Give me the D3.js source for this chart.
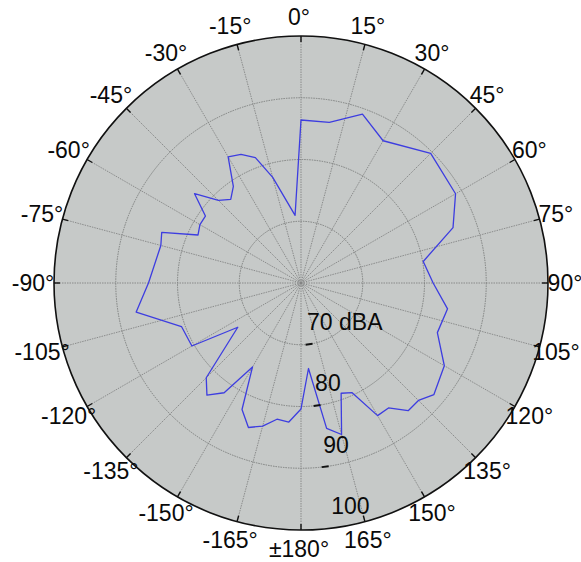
<!DOCTYPE html>
<html>
<head>
<meta charset="utf-8">
<script src="https://cdn.jsdelivr.net/npm/d3@7"></script>
<style>
  html, body { margin: 0; padding: 0; background: #ffffff; }
  svg { display: block; }
  text { font-family: "Liberation Sans", Arial, Helvetica, sans-serif; fill: #0a0a0a; }
</style>
</head>
<body>
<svg id="chart" width="581" height="562"></svg>
<script>
// Measured direction (degrees, clockwise from front) and sound level (dBA)
const angleDeg = [-175, -170, -165, -160, -155, -150, -145, -140, -135, -125, -120, -110, -100, -90,
                  -75, -70, -65, -60, -55, -50, -45, -40, -35, -30, -25, -20, -15, -5,
                  0, 10, 20, 30, 45, 60, 70, 80, 90, 100, 110, 120, 130, 135, 140, 145, 150,
                  155, 160, 165, 170, 175, 180];
const levelDb  = [82.6, 82.4, 84.0, 84.9, 82.6, 75.7, 81.7, 83.7, 81.7, 72.5, 80.4, 80.6, 87.1, 84.7,
                  83.5, 84.0, 78.4, 78.9, 78.9, 82.5, 78.9, 77.7, 79.1, 83.6, 83.0, 81.6, 77.7, 71.0,
                  86.4, 86.4, 89.1, 86.6, 89.7, 88.9, 86.2, 80.1, 81.4, 84.1, 83.5, 86.8, 88.1, 86.9, 87.0, 84.7, 84.8,
                  79.6, 79.0, 85.4, 83.9, 73.9, 80.4];

// Angular axis labels every 15 degrees
const thetaTicks = d3.range(-165, 181, 15);
const thetaLabels = thetaTicks.map(t => t === 180 ? "\u00b1180\u00b0" : t + "\u00b0");

// Radial axis
const rDomain = [60, 100];
const rTicks = [70, 80, 90, 100];
const rTickLabels = ["70 dBA", "80", "90", "100"];
const rAxisAngleDeg = 172.5;

const cx = 301, cy = 283, R = 247;
const svg = d3.select("#chart");
const g = svg.append("g").attr("transform", `translate(${cx},${cy})`);

const r = d3.scaleLinear().domain(rDomain).range([0, R]);
const rad = d => d * Math.PI / 180;
const px = (deg, rr) => rr * Math.sin(rad(deg));
const py = (deg, rr) => -rr * Math.cos(rad(deg));

// Plot background
g.append("circle").attr("r", R).attr("fill", "#c6c9c8");

// Grid rings
g.selectAll("circle.ring").data(rTicks.filter(v => v < rDomain[1]))
  .join("circle").attr("class", "ring")
  .attr("r", d => r(d))
  .attr("fill", "none").attr("stroke", "#767877").attr("stroke-width", 0.9)
  .attr("stroke-dasharray", "1.5,1");

// Grid spokes
g.selectAll("line.spoke").data(thetaTicks)
  .join("line").attr("class", "spoke")
  .attr("x1", 0).attr("y1", 0)
  .attr("x2", d => px(d, R)).attr("y2", d => py(d, R))
  .attr("stroke", "#838584").attr("stroke-width", 0.9)
  .attr("stroke-dasharray", "1.5,1");

// Data trace
const line = d3.lineRadial()
  .angle(d => rad(d[0]))
  .radius(d => r(d[1]))
  .curve(d3.curveLinearClosed);
const pts = angleDeg.map((a, i) => [a, levelDb[i]]);
g.append("path").datum(pts)
  .attr("d", line)
  .attr("fill", "none").attr("stroke", "#3d3de0").attr("stroke-width", 1.3)
  .attr("stroke-linejoin", "round");

// Outer boundary and angular ticks
g.append("circle").attr("r", R).attr("fill", "none").attr("stroke", "#111").attr("stroke-width", 1.6);
g.selectAll("line.tt").data(thetaTicks)
  .join("line").attr("class", "tt")
  .attr("x1", d => px(d, R)).attr("y1", d => py(d, R))
  .attr("x2", d => px(d, R - 6)).attr("y2", d => py(d, R - 6))
  .attr("stroke", "#111").attr("stroke-width", 1.4);

// Angular labels
g.selectAll("text.theta").data(thetaTicks)
  .join("text").attr("class", "theta")
  .attr("x", d => px(d, 266) - 2).attr("y", d => py(d, 266))
  .attr("text-anchor", "middle").attr("dominant-baseline", "central")
  .attr("font-size", 23)
  .text((d, i) => thetaLabels[i]);

// Radial axis ticks and labels
const tl = 3.5;
const ta = rad(rAxisAngleDeg);
g.selectAll("line.rt").data(rTicks.filter(v => v < rDomain[1]))
  .join("line").attr("class", "rt")
  .attr("x1", d => px(rAxisAngleDeg, r(d)) - tl * Math.cos(ta))
  .attr("y1", d => py(rAxisAngleDeg, r(d)) - tl * Math.sin(ta))
  .attr("x2", d => px(rAxisAngleDeg, r(d)) + tl * Math.cos(ta))
  .attr("y2", d => py(rAxisAngleDeg, r(d)) + tl * Math.sin(ta))
  .attr("stroke", "#111").attr("stroke-width", 2);
g.selectAll("text.rl").data(rTicks)
  .join("text").attr("class", "rl")
  .attr("x", d => px(rAxisAngleDeg, r(d)) - 2)
  .attr("y", d => py(rAxisAngleDeg, r(d)) - 14)
  .attr("font-size", 23)
  .text((d, i) => rTickLabels[i]);
</script>
</body>
</html>
